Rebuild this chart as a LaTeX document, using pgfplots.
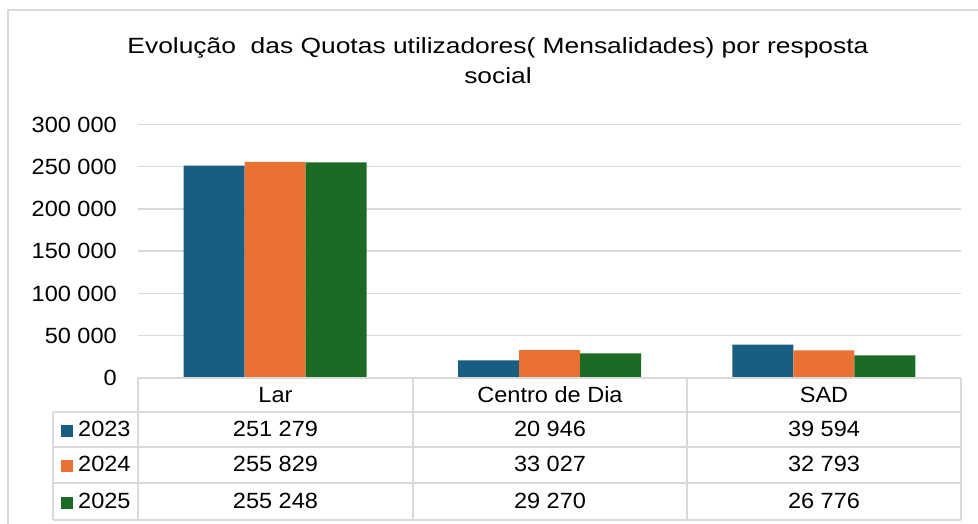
\documentclass[border=0pt]{standalone}
\usepackage{pgfplots}
\pgfplotsset{compat=1.18}
\usepackage{fontspec}
\setmainfont{Liberation Sans}[FakeStretch=1.07]
\newfontfamily\titlefont{Liberation Sans}[FakeStretch=1.2]
\definecolor{c23}{HTML}{175E82}
\definecolor{c24}{HTML}{E97132}
\definecolor{c25}{HTML}{1B6B25}
\definecolor{gridc}{HTML}{D9D9D9}
\newcommand{\fs}{\fontsize{22}{26}\selectfont}
\begin{document}
\begin{tikzpicture}[x=1pt,y=1pt]
\useasboundingbox (0,0) rectangle (978,524);
\draw[gridc, line width=1.5pt] (8,-20) -- (8,514) -- (1000,514);
\node[anchor=base, font=\titlefont\fs] at (498,470) {Evolução\ \ das Quotas utilizadores( Mensalidades) por resposta};
\node[anchor=base, font=\titlefont\fs] at (498,440) {social};
\begin{axis}[
  at={(138pt,146pt)}, anchor=south west, scale only axis,
  width=823pt, height=253.5pt,
  xmin=-0.5, xmax=2.5, ymin=0, ymax=300000,
  ybar=0pt, bar width=61pt,
  axis line style={draw=none},
  major tick length=0pt,
  xtick=\empty,
  scaled y ticks=false,
  ytick={0,50000,100000,150000,200000,250000,300000},
  yticklabels={0,50 000,100 000,150 000,200 000,250 000,300 000},
  yticklabel style={font=\fs, anchor=east, inner sep=0pt, xshift=-21pt},
  ymajorgrids, grid style={gridc, line width=1.5pt},
  clip=false,
]
\addplot[fill=c23, draw=none] coordinates {(0,251279) (1,20946) (2,39594)};
\addplot[fill=c24, draw=none] coordinates {(0,255829) (1,33027) (2,32793)};
\addplot[fill=c25, draw=none] coordinates {(0,255248) (1,29270) (2,26776)};
\end{axis}
% data table
\begin{scope}[gridc, line width=1.5pt]
\draw (138,146) -- (961,146);
\foreach \y in {112,77,41,4} \draw (53,\y) -- (961,\y);
\draw (53,112) -- (53,4);
\foreach \x in {138,413,687,961} \draw (\x,146) -- (\x,4);
\end{scope}
\begin{scope}[every node/.style={font=\fs, anchor=base, inner sep=0pt}]
\node at (275.5,121) {Lar};
\node at (550,121) {Centro de Dia};
\node at (824,121) {SAD};
\node at (275.5,87) {251 279};
\node at (550,87) {20 946};
\node at (824,87) {39 594};
\node at (275.5,52) {255 829};
\node at (550,52) {33 027};
\node at (824,52) {32 793};
\node at (275.5,15) {255 248};
\node at (550,15) {29 270};
\node at (824,15) {26 776};
\node[anchor=base west] at (78,87) {2023};
\node[anchor=base west] at (78,52) {2024};
\node[anchor=base west] at (78,15) {2025};
\end{scope}
\fill[c23] (61,87) rectangle (73,99);
\fill[c24] (61,52) rectangle (73,64);
\fill[c25] (61,15) rectangle (73,27);
\end{tikzpicture}
\end{document}
